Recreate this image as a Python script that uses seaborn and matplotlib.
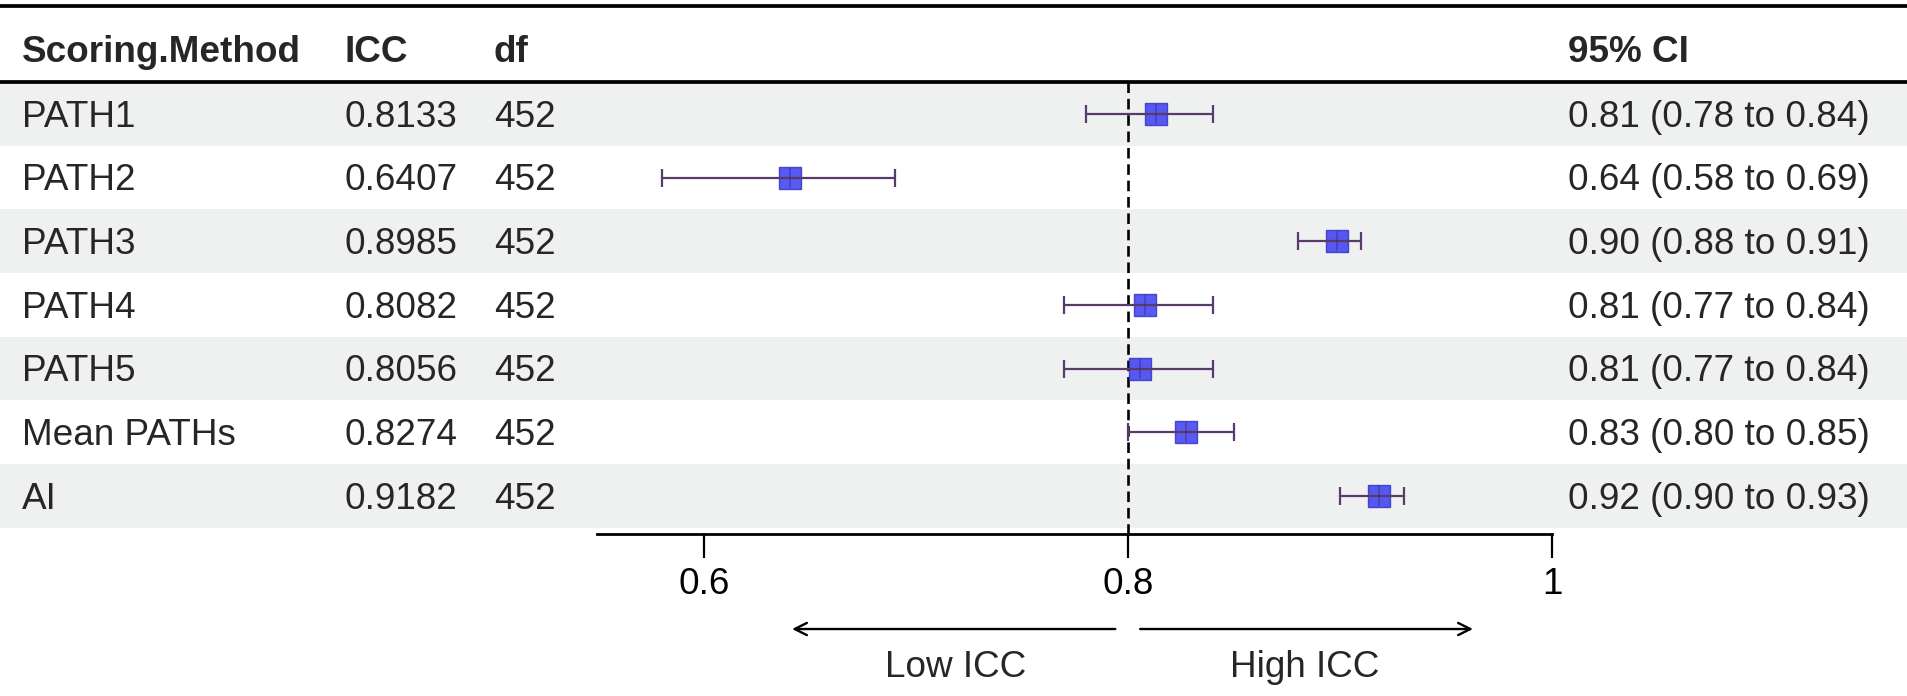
import matplotlib
matplotlib.use("Agg")
import matplotlib.pyplot as plt
import matplotlib.transforms as mtransforms
import seaborn as sns
import pandas as pd

# datos
methods = ["PATH1", "PATH2", "PATH3", "PATH4", "PATH5", "Mean PATHs", "AI"]
icc = [0.8133, 0.6407, 0.8985, 0.8082, 0.8056, 0.8274, 0.9182]
df_vals = [452, 452, 452, 452, 452, 452, 452]
ci_low = [0.78, 0.58, 0.88, 0.77, 0.77, 0.80, 0.90]
ci_high = [0.84, 0.69, 0.91, 0.84, 0.84, 0.85, 0.93]
x_ticks = [0.6, 0.8, 1.0]
x_tick_labels = ["0.6", "0.8", "1"]
headers = ["Scoring.Method", "ICC", "df", "95% CI"]
ref_value = 0.8

data = pd.DataFrame({"method": methods, "icc": icc, "df": df_vals,
                     "lo": ci_low, "hi": ci_high})
data["row"] = range(len(data))

sns.set_theme(style="white")
plt.rcParams["font.family"] = ["Liberation Sans", "DejaVu Sans"]
FS = 26.6

fig = plt.figure(figsize=(19.08, 6.96), dpi=100)
ax = fig.add_axes([0, 0.2328, 1, 0.7672])
ax.set_xlim(0.2679, 1.1679)
ax.set_ylim(6.596, -1.787)

# filas sombreadas
for r in data["row"]:
    if r % 2 == 0:
        ax.axhspan(r - 0.5, r + 0.5, color="#eef1ef", zorder=0, lw=0)

# lineas de la tabla
ax.axhline(-1.693, color="black", lw=2.7, zorder=3)
ax.axhline(-0.5, color="black", lw=2.7, zorder=3)

# linea de referencia
ax.vlines(ref_value, -0.5, 6.596, colors="black", linestyles=(0, (4, 2.2)),
          lw=1.9, zorder=2)

# intervalos de confianza
ax.errorbar(data["icc"], data["row"],
            xerr=[data["icc"] - data["lo"], data["hi"] - data["icc"]],
            fmt="none", ecolor="#5a3a66", elinewidth=1.6, capsize=6.5,
            capthick=1.6, zorder=4)
sns.scatterplot(data=data, x="icc", y="row", marker="s", s=270,
                color="#3c3cf2", edgecolor="#3434c8", linewidth=1, alpha=0.85,
                zorder=3, ax=ax, legend=False)
ax.plot(data["icc"], data["row"], ls="none", marker="|", ms=15,
        mew=1.2, color="#3a2a70", alpha=0.5, zorder=5)

# columnas de texto
tr = mtransforms.blended_transform_factory(ax.transAxes, ax.transData)
col_x = [0.0115, 0.1803, 0.2589, 0.8218]
for cx, h in zip(col_x, headers):
    ax.text(cx, -0.97, h, transform=tr, fontsize=FS, fontweight="bold",
            va="center", ha="left")
for _, row in data.iterrows():
    y = row["row"] + 0.05
    ax.text(col_x[0], y, row["method"], transform=tr, fontsize=FS, va="center")
    ax.text(col_x[1], y, f"{row['icc']:.4f}", transform=tr, fontsize=FS, va="center")
    ax.text(col_x[2], y, f"{row['df']}", transform=tr, fontsize=FS, va="center")
    ax.text(col_x[3], y, f"{row['icc']:.2f} ({row['lo']:.2f} to {row['hi']:.2f})",
            transform=tr, fontsize=FS, va="center")

# eje x
for s in ["top", "left", "right"]:
    ax.spines[s].set_visible(False)
ax.spines["bottom"].set_bounds(0.5495, 1.0)
ax.spines["bottom"].set_linewidth(2.0)
ax.spines["bottom"].set_color("black")
ax.set_xticks(x_ticks)
ax.set_xticklabels(x_tick_labels)
ax.tick_params(axis="x", bottom=True, length=17, width=1.6, pad=7,
               labelsize=FS, colors="black")
ax.set_yticks([])
ax.set_xlabel("")
ax.set_ylabel("")

# flechas
arrow_y = -0.178
ax.annotate("", xy=(0.6415, arrow_y), xytext=(0.794, arrow_y),
            xycoords=("data", "axes fraction"), textcoords=("data", "axes fraction"),
            arrowprops=dict(arrowstyle="->", lw=1.7, color="black",
                            mutation_scale=22, shrinkA=0, shrinkB=0),
            annotation_clip=False)
ax.annotate("", xy=(0.9627, arrow_y), xytext=(0.8057, arrow_y),
            xycoords=("data", "axes fraction"), textcoords=("data", "axes fraction"),
            arrowprops=dict(arrowstyle="->", lw=1.7, color="black",
                            mutation_scale=22, shrinkA=0, shrinkB=0),
            annotation_clip=False)
ax.annotate("Low ICC", xy=(0.7189, -0.251), xycoords=("data", "axes fraction"),
            ha="center", va="center", fontsize=FS, annotation_clip=False)
ax.annotate("High ICC", xy=(0.8835, -0.251), xycoords=("data", "axes fraction"),
            ha="center", va="center", fontsize=FS, annotation_clip=False)

fig.savefig("out.png", dpi=100)
